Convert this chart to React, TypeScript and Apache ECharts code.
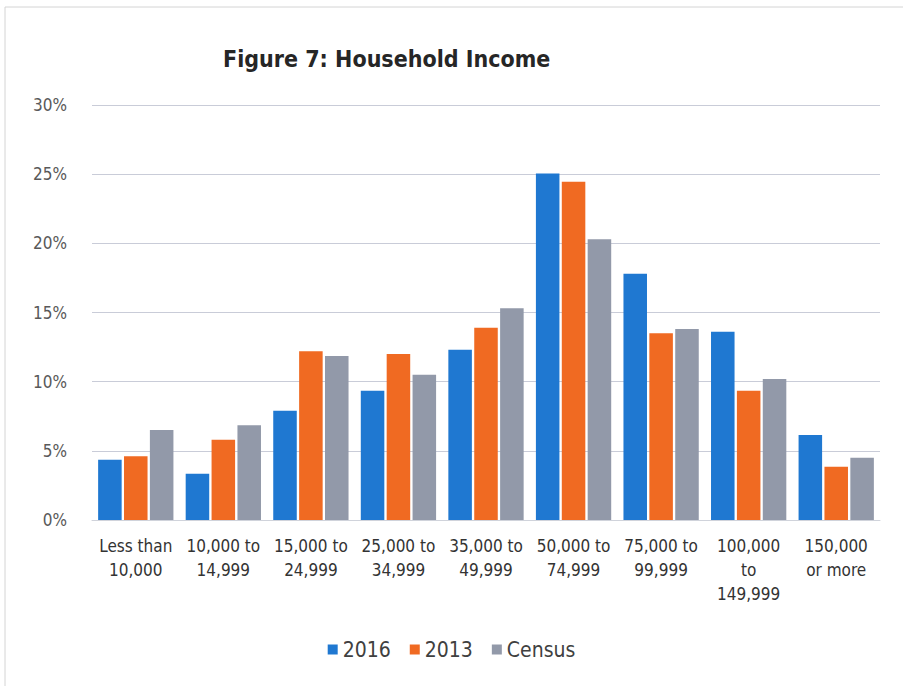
import React, { useEffect, useRef } from "react";
import * as echarts from "echarts";

const categories = [
  "Less than\n10,000",
  "10,000 to\n14,999",
  "15,000 to\n24,999",
  "25,000 to\n34,999",
  "35,000 to\n49,999",
  "50,000 to\n74,999",
  "75,000 to\n99,999",
  "100,000\nto\n149,999",
  "150,000\nor more",
];
const s2016 = [4.35, 3.35, 7.9, 9.35, 12.3, 25.05, 17.8, 13.6, 6.15];
const s2013 = [4.6, 5.8, 12.2, 12.0, 13.9, 24.45, 13.5, 9.35, 3.85];
const sCensus = [6.5, 6.85, 11.85, 10.5, 15.3, 20.3, 13.8, 10.2, 4.5];
const seriesNames = ["2016", "2013", "Census"];
const colors = ["#1f78d1", "#f06a22", "#9299a9"];

const FONT = "'Liberation Sans Narrow', 'DejaVu Sans Condensed', 'Liberation Sans', sans-serif";

export default function App() {
  const ref = useRef<HTMLDivElement>(null);
  useEffect(() => {
    if (!ref.current) return;
    const chart = echarts.init(ref.current, null, { renderer: "svg" });
    const data = [s2016, s2013, sCensus];
    chart.setOption({
      animation: false,
      backgroundColor: "#ffffff",
      title: {
        text: "Figure 7: Household Income",
        left: 218,
        top: 42,
        textStyle: { fontFamily: FONT, fontSize: 23, fontWeight: "bold", color: "#262626" },
      },
      graphic: [
        {
          type: "rect",
          shape: { x: 5, y: 7, width: 920, height: 690 },
          style: { fill: "none", stroke: "#d4d4d4", lineWidth: 1 },
          silent: true,
        },
      ],
      legend: {
        data: seriesNames,
        bottom: 21,
        left: "center",
        itemWidth: 10,
        itemHeight: 10,
        itemGap: 19,
        icon: "rect",
        textStyle: { fontFamily: FONT, fontSize: 21, color: "#404040" },
      },
      grid: { left: 92, right: 23, top: 105, bottom: 166, containLabel: false },
      xAxis: {
        type: "category",
        data: categories,
        axisTick: { show: false },
        axisLine: { show: true, lineStyle: { color: "#d0d3db" } },
        axisLabel: {
          interval: 0,
          margin: 14,
          lineHeight: 24,
          fontFamily: FONT,
          fontSize: 17,
          color: "#333333",
        },
      },
      yAxis: {
        type: "value",
        min: 0,
        max: 30,
        interval: 5,
        axisLine: { show: false },
        axisTick: { show: false },
        splitLine: { lineStyle: { color: "#c9ccd8", width: 1 } },
        axisLabel: {
          formatter: "{value}%",
          margin: 25,
          fontFamily: FONT,
          fontSize: 17,
          color: "#595959",
        },
      },
      series: seriesNames.map((name, i) => ({
        name,
        type: "bar",
        data: data[i],
        barGap: "10%",
        barCategoryGap: "14%",
        itemStyle: { color: colors[i] },
      })),
    });
    return () => chart.dispose();
  }, []);
  return (
    <div
      ref={ref}
      style={{ position: "fixed", left: 0, top: 0, width: 903, height: 686, background: "#fff" }}
    />
  );
}
